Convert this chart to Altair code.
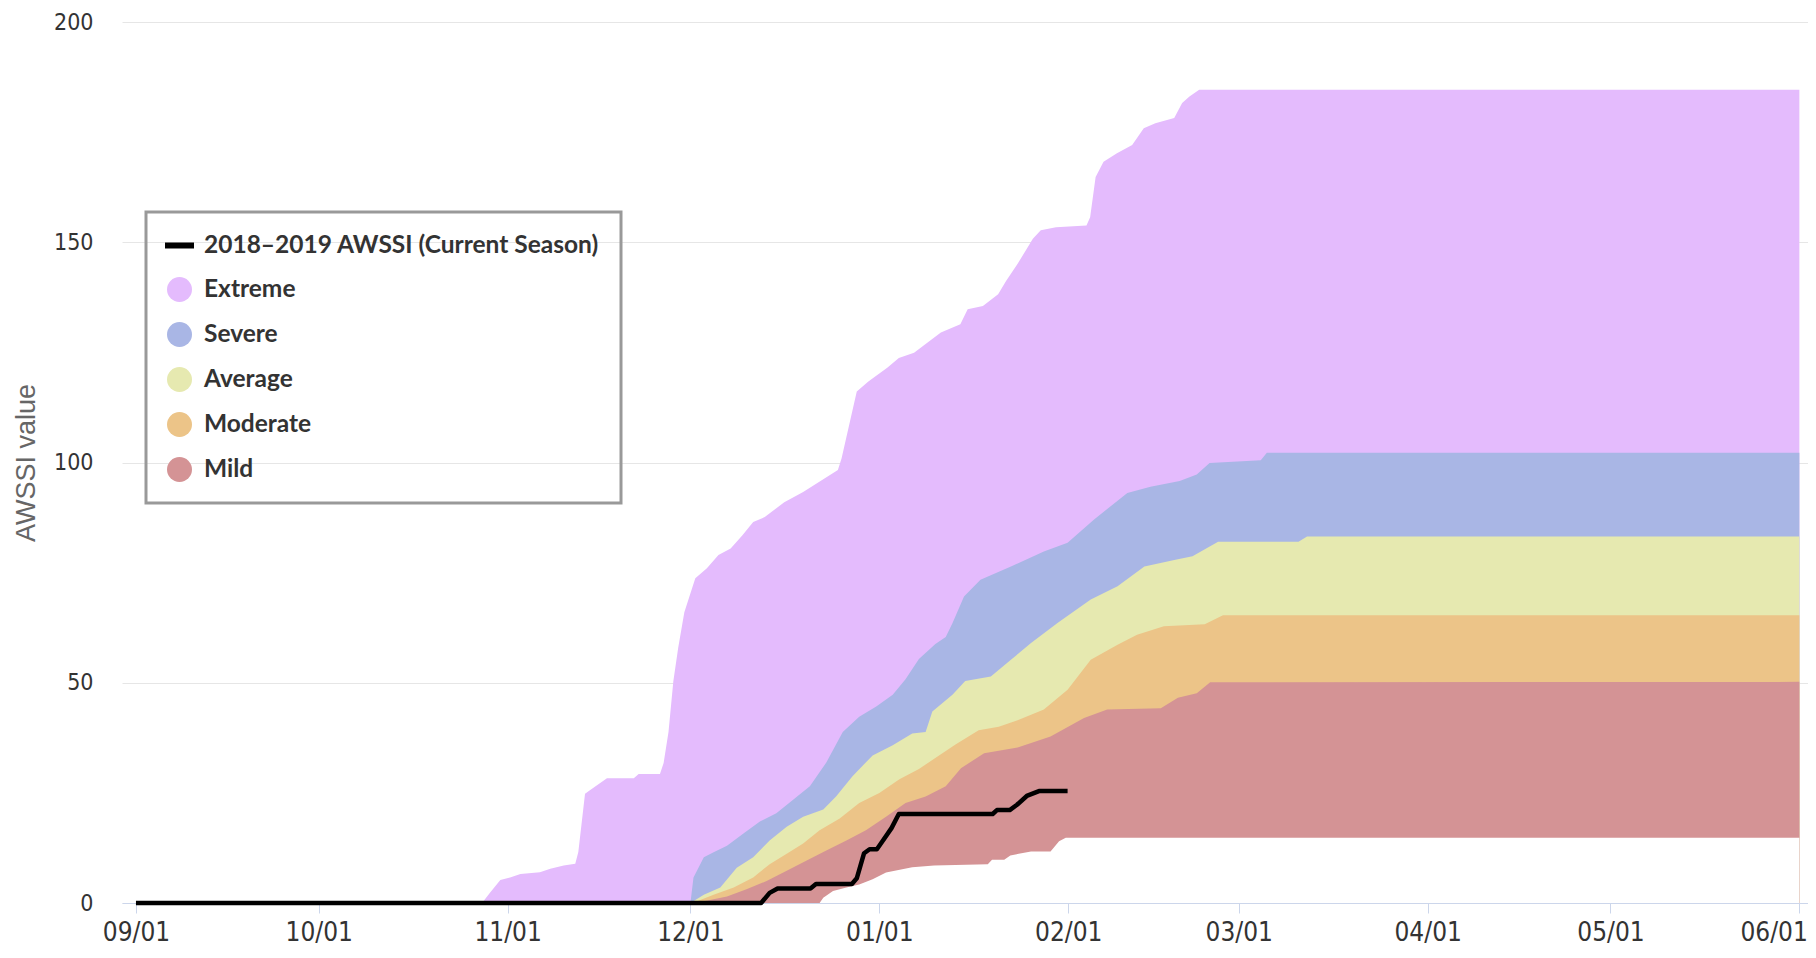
import altair as alt
import pandas as pd

BASE_DATE = "2018-09-01"

# Day offsets from 2018-09-01 and AWSSI values
EXTREME_DAYS = [0, 56.8, 58.1, 59.8, 61.4, 63.1, 66.3, 68.0, 70.2, 72.1, 72.6, 73.7, 74.5, 77.3, 81.7, 82.5, 86.0, 86.6, 87.4, 88.2,
                89.0, 90.0, 91.8, 93.7, 95.6, 97.6, 99.5, 101.3, 103.2, 106.4, 109.5, 115.2, 115.8, 118.3, 120.2, 123.3, 125.2, 127.7, 132.1, 135.3,
                136.5, 139.0, 141.5, 142.8, 144.7, 147.2, 148.5, 151.0, 156.0, 156.6, 157.5, 158.8, 161.0, 163.5, 165.4, 167.3, 170.4, 171.7, 172.9, 174.5, 273]
EXTREME_VALS = [0, 0, 2.3, 5.2, 5.8, 6.6, 7.0, 7.8, 8.5, 8.9, 11.6, 24.8, 25.6, 28.3, 28.3, 29.3, 29.3, 31.8, 38.8, 50.4,
                58.0, 66.0, 73.7, 76.0, 79.0, 80.5, 83.4, 86.5, 87.6, 91.0, 93.3, 98.3, 100.9, 116.1, 118.4, 121.5, 123.7, 124.9, 129.5, 131.4,
                134.8, 135.5, 138.2, 141.2, 145.1, 150.8, 152.7, 153.4, 153.8, 155.7, 164.8, 168.3, 170.2, 172.1, 175.9, 177.0, 178.2, 181.6, 183.1, 184.6, 184.6]

SEVERE_DAYS = [91.0, 91.5, 93.2, 94.8, 97.0, 99.7, 102.4, 105.1, 107.9, 110.6, 113.3, 116.0, 118.7, 121.5, 124.2, 126.3, 128.5, 131.2, 132.9, 134.0,
               135.9, 138.6, 143.6, 149.0, 152.9, 157.2, 162.7, 166.5, 171.3, 174.1, 176.2, 184.6, 185.6, 273]
SEVERE_VALS = [0, 5.8, 10.4, 11.5, 13.0, 15.8, 18.5, 20.4, 23.5, 26.5, 31.9, 38.8, 42.3, 44.6, 47.3, 50.8, 55.4, 58.8, 60.4, 63.5,
               69.6, 73.4, 76.4, 79.8, 81.8, 87.0, 93.1, 94.5, 95.8, 97.3, 99.9, 100.5, 102.2, 102.2]

AVERAGE_DAYS = [91.0, 93.2, 95.9, 98.6, 101.3, 104.0, 106.8, 109.5, 112.8, 114.9, 117.6, 120.9, 124.2, 127.4, 129.6, 130.7, 134.0, 136.1, 140.3, 143.6,
                146.9, 151.3, 156.7, 161.1, 165.5, 170.6, 173.4, 177.6, 190.8, 192.2, 273]
AVERAGE_VALS = [0, 1.9, 3.5, 8.0, 10.4, 14.2, 17.3, 19.6, 21.2, 24.2, 28.8, 33.5, 35.8, 38.5, 38.8, 43.5, 47.3, 50.4, 51.4, 55.2,
                59.0, 63.6, 68.9, 71.9, 76.4, 77.9, 78.7, 82.0, 82.0, 83.2, 83.2]

MODERATE_DAYS = [91.0, 92.1, 94.8, 98.1, 101.3, 104.0, 106.8, 109.5, 112.2, 115.5, 118.7, 122.0, 125.3, 128.5, 131.8, 134.5, 138.3, 141.6, 144.7, 149.0,
                 152.9, 156.7, 161.1, 164.3, 168.7, 175.4, 178.4, 273]
MODERATE_VALS = [0, 0.4, 1.9, 3.5, 5.8, 8.8, 11.2, 13.5, 16.5, 19.2, 22.7, 25.0, 28.1, 30.4, 33.5, 36.0, 39.2, 40.0, 41.5, 43.9,
                 48.4, 55.2, 58.6, 60.9, 62.8, 63.3, 65.3, 65.3]

MILD_DAYS = [91.0, 93.2, 97.0, 100.2, 103.5, 106.8, 110.0, 113.3, 116.6, 119.8, 123.1, 126.3, 129.6, 132.9, 135.4, 139.2, 144.7, 150.1, 155.6, 159.4,
             168.2, 171.0, 174.1, 176.3, 273]
MILD_VALS = [0, 0.4, 1.5, 3.1, 5.0, 7.3, 9.6, 11.9, 14.2, 16.5, 19.6, 22.7, 24.2, 26.5, 30.6, 34.0, 35.3, 37.8, 42.0, 43.9,
             44.2, 46.6, 47.6, 50.1, 50.2]

# lower edge of the Mild band (season minimum)
MIN_DAYS = [91.0, 112.2, 112.8, 114.4, 116.6, 118.7, 120.9, 123.1, 127.4, 131.0, 139.8, 140.5, 142.5, 143.5, 146.9, 150.1, 151.5, 152.6, 273]
MIN_VALS = [0, 0, 1.2, 2.7, 3.5, 4.2, 5.4, 6.9, 8.1, 8.5, 8.8, 9.8, 9.8, 10.8, 11.7, 11.7, 14.0, 14.8, 14.8]

SEASON_DAYS = [0, 102.6, 104.0, 105.3, 110.7, 111.6, 117.5, 118.3, 119.5, 120.4, 121.6, 122.6, 124.0, 125.2, 140.6, 141.3, 143.4, 144.6, 146.2, 148.2, 152.9]
SEASON_VALS = [0, 0, 2.3, 3.3, 3.3, 4.3, 4.3, 5.6, 11.3, 12.2, 12.2, 14.2, 17.0, 20.2, 20.2, 21.1, 21.1, 22.3, 24.3, 25.4, 25.4]

LEGEND_ENTRIES = ["2018\u20132019 AWSSI (Current Season)", "Extreme", "Severe", "Average", "Moderate", "Mild"]
LEGEND_COLORS = ["#000000", "#e4bbfd", "#a9b6e5", "#e6e9b0", "#ecc488", "#d49395"]
DASH_PATH = "M-1.16,-0.24H1.16V0.24H-1.16Z"
LEGEND_SHAPES = [DASH_PATH, "circle", "circle", "circle", "circle", "circle"]

TICK_MONTHS = [(2018, 9), (2018, 10), (2018, 11), (2018, 12), (2019, 1), (2019, 2), (2019, 3), (2019, 4), (2019, 5), (2019, 6)]
Y_TICKS = [0, 50, 100, 150, 200]

AXIS_FONT = "DejaVu Sans Condensed, DejaVu Sans, sans-serif"
LEGEND_FONT = "Lato, Roboto, sans-serif"


def frame(days, vals):
    dates = pd.Timestamp(BASE_DATE) + pd.to_timedelta(days, unit="D")
    return pd.DataFrame({"date": dates.strftime("%Y-%m-%dT%H:%M:%SZ"), "value": vals})


x_enc = alt.X(
    "date:T",
    title=None,
    scale=alt.Scale(
        type="utc",
        domain=[alt.DateTime(year=2018, month=8, date=29, hours=17, utc=True),
                alt.DateTime(year=2019, month=6, date=2, hours=10, utc=True)],
    ),
    axis=alt.Axis(
        values=[alt.DateTime(year=y, month=m, date=1, utc=True) for y, m in TICK_MONTHS],
        format="%m/%d", grid=False, domainColor="#ccd6eb", tickColor="#ccd6eb",
        tickSize=10, labelPadding=6, labelFontSize=26, labelFont=AXIS_FONT, labelColor="#333333",
        labelFlush=11, labelFlushOffset=8, labelOverlap=False,
    ),
)
y_enc = alt.Y(
    "value:Q",
    stack=None,
    scale=alt.Scale(domain=[0, 200], nice=False),
    axis=alt.Axis(
        values=Y_TICKS, grid=True, gridColor="#e6e6e6", gridWidth=1, domain=False, ticks=False,
        labelPadding=29, labelFontSize=23, labelFont=AXIS_FONT, labelColor="#333333",
        title="AWSSI value", titleColor="#666666", titleFontSize=27, titleFont="Liberation Sans, sans-serif",
        titleFontWeight="normal", titlePadding=13,
    ),
)


def band(days, vals, color):
    return alt.Chart(frame(days, vals)).mark_area(color=color, opacity=1).encode(x=x_enc, y=y_enc)


layers = [
    band(EXTREME_DAYS, EXTREME_VALS, LEGEND_COLORS[1]),
    band(SEVERE_DAYS, SEVERE_VALS, LEGEND_COLORS[2]),
    band(AVERAGE_DAYS, AVERAGE_VALS, LEGEND_COLORS[3]),
    band(MODERATE_DAYS, MODERATE_VALS, LEGEND_COLORS[4]),
    band(MILD_DAYS, MILD_VALS, LEGEND_COLORS[5]),
    band(MIN_DAYS, MIN_VALS, "#ffffff"),
    alt.Chart(frame(SEASON_DAYS, SEASON_VALS)).mark_line(color="#000000", strokeWidth=4.5, strokeJoin="round").encode(x=x_enc, y=y_enc),
]

legend_props = dict(
    title=None, orient="none", legendX=24, legendY=190, padding=21, rowPadding=19,
    labelOffset=12, symbolSize=625, labelFontSize=24.5, labelFont=LEGEND_FONT, labelFontWeight="bold",
    labelColor="#333333", strokeColor="#999999", symbolStrokeWidth=0, labelLimit=700, symbolOpacity=1,
)
legend_layer = alt.Chart(pd.DataFrame({"entry": LEGEND_ENTRIES})).mark_point(filled=True, opacity=1).encode(
    color=alt.Color("entry:N", scale=alt.Scale(domain=LEGEND_ENTRIES, range=LEGEND_COLORS), legend=alt.Legend(**legend_props)),
    shape=alt.Shape("entry:N", scale=alt.Scale(domain=LEGEND_ENTRIES, range=LEGEND_SHAPES), legend=alt.Legend(**legend_props)),
).transform_filter("false")

chart = alt.layer(*layers, legend_layer).properties(
    width=1686, height=881,
    padding={"left": 114, "top": 14, "right": 0, "bottom": 45},
    autosize=alt.AutoSizeParams(type="none"),
    background="white",
).configure_view(stroke=None).configure_legend(strokeWidth=3)

chart.save("out.html", embed_options={"renderer": "svg", "actions": False})
